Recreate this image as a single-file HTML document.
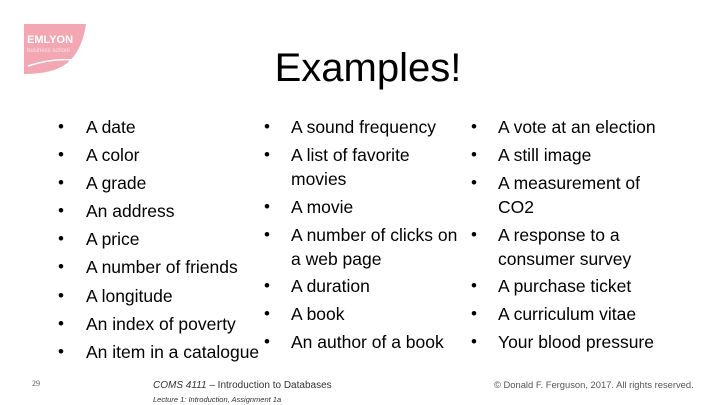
<!DOCTYPE html>
<html><head><style>
body{margin:0;width:720px;height:405px;background:#fff;position:relative;overflow:hidden;font-family:"Liberation Sans",sans-serif;color:#000}
.t{position:absolute;font-size:17.5px;line-height:20px;white-space:nowrap}
.b{position:absolute;font-size:17px;line-height:20px}
</style></head><body>
<svg style="position:absolute;left:22px;top:22px" width="68" height="54">
<path d="M2 2 L64 2 Q60 30 44 42 Q30 52 2 52 Z" fill="#f3a7b3"/>
<path d="M6 44 Q30 36 52 38" stroke="#fff" stroke-width="1.5" fill="none"/>
<text x="5" y="21" font-family="Liberation Sans" font-size="11" font-weight="bold" fill="#fff">EMLYON</text>
<text x="5" y="30" font-family="Liberation Sans" font-size="6" fill="#fbe3e7">business school</text>
</svg>
<div style="position:absolute;left:0;width:736px;top:44px;text-align:center;font-size:40px;line-height:48px">Examples!</div>
<div id="c"></div>
<div style="position:absolute;left:32px;top:379px;font-size:8px;font-family:'Liberation Serif',serif;color:#555">29</div>
<div style="position:absolute;left:153px;top:380px;font-size:10px;font-style:italic;color:#333">COMS 4111 <span style="font-style:normal">– Introduction to Databases</span></div>
<div style="position:absolute;left:153px;top:395px;font-size:7.5px;font-style:italic;color:#333">Lecture 1: Introduction, Assignment 1a</div>
<div style="position:absolute;left:494px;top:379px;font-size:9.4px;color:#555">© Donald F. Ferguson, 2017. All rights reserved.</div>
<script>
var cols=[[58,86,[[127,"A date"],[155,"A color"],[183,"A grade"],[211,"An address"],[239,"A price"],[267,"A number of friends"],[296,"A longitude"],[324,"An index of poverty"],[352,"An item in a catalogue"]]],
[264,291,[[127,"A sound frequency"],[155,"A list of favorite",179,"movies"],[207,"A movie"],[235,"A number of clicks on",259,"a web page"],[286,"A duration"],[314,"A book"],[342,"An author of a book"]]],
[471,498,[[127,"A vote at an election"],[155,"A still image"],[183,"A measurement of",207,"CO2"],[235,"A response to a",259,"consumer survey"],[286,"A purchase ticket"],[314,"A curriculum vitae"],[342,"Your blood pressure"]]]];
var h="";cols.forEach(function(c){c[2].forEach(function(r){h+='<div class="b" style="left:'+c[0]+'px;top:'+(r[0]-10)+'px">•</div><div class="t" style="left:'+c[1]+'px;top:'+(r[0]-10)+'px">'+r[1]+'</div>';if(r[2])h+='<div class="t" style="left:'+c[1]+'px;top:'+(r[2]-10)+'px">'+r[3]+'</div>';});});
document.getElementById("c").innerHTML=h;
</script>
</body></html>
